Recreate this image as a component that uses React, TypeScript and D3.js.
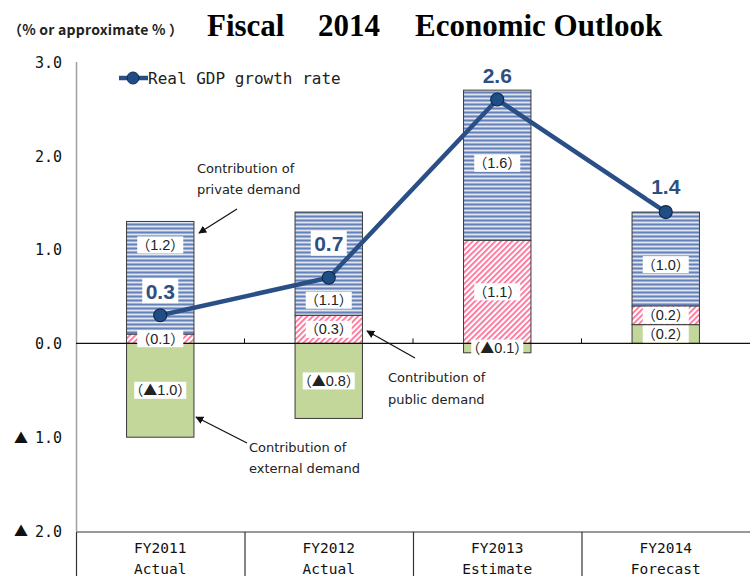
import React from "react";
import * as d3 from "d3";

const categories = ["FY2011", "FY2012", "FY2013", "FY2014"];
const categorySub = ["Actual", "Actual", "Estimate", "Forecast"];
const privateDemand = [1.2, 1.1, 1.6, 1.0];
const publicDemand = [0.1, 0.3, 1.1, 0.2];
const externalDemand = [-1.0, -0.8, -0.1, 0.2];
const gdpGrowth = [0.3, 0.7, 2.6, 1.4];
const yTicks = [3, 2, 1, 0, -1, -2];

// layout helpers (label placement, not data)
const privateLabelAt = [1.05, 0.46, 1.92, 0.84];
const gdpLabelLift = [24, 34, 24, 26];

const W = 750;
const H = 576;

const y = d3.scaleLinear().domain([-2, 3]).range([531, 62]);
const xCell = d3.scaleBand<string>().domain(categories).range([76, 750]).padding(0);
const xBar = d3
  .scaleBand<string>()
  .domain(categories)
  .range([76, 750])
  .paddingInner(0.6)
  .paddingOuter(0.3);

type Seg = { cat: string; kind: string; y0: number; y1: number; v: number };

function buildSegments(): Seg[] {
  const out: Seg[] = [];
  categories.forEach((c, i) => {
    let base = 0;
    const ext = externalDemand[i];
    if (ext >= 0) {
      out.push({ cat: c, kind: "ext", y0: 0, y1: ext, v: ext });
      base = ext;
    } else {
      out.push({ cat: c, kind: "ext", y0: ext, y1: 0, v: ext });
    }
    out.push({ cat: c, kind: "pub", y0: base, y1: base + publicDemand[i], v: publicDemand[i] });
    base += publicDemand[i];
    out.push({ cat: c, kind: "priv", y0: base, y1: base + privateDemand[i], v: privateDemand[i] });
  });
  return out;
}

const fillFor: Record<string, string> = {
  ext: "#c4d79b",
  pub: "url(#pubPat)",
  priv: "url(#privPat)",
};

const LINE = "#2a4f86";
const sans = "'Liberation Sans', Arial, sans-serif";
const dv = "'DejaVu Sans', sans-serif";
const mono = "'DejaVu Sans Mono', monospace";
const cjk = "'Noto Sans CJK JP', 'Noto Sans', sans-serif";

export default function App() {
  const segs = buildSegments();
  const bw = xBar.bandwidth();
  const cx = (c: string) => (xBar(c) as number) + bw / 2;
  const line = d3
    .line<number>()
    .x((_, i) => cx(categories[i]))
    .y((d) => y(d));

  const segLabelY = (s: Seg, i: number) =>
    s.kind === "priv" ? y(privateLabelAt[i]) : y((s.y0 + s.y1) / 2);

  return (
    <div style={{ position: "absolute", left: 0, top: 0 }}>
      <svg width={W} height={H} style={{ display: "block", background: "#fff" }}>
        <defs>
          <pattern id="privPat" patternUnits="userSpaceOnUse" width={4} height={4}>
            <rect width={4} height={4} fill="#9fb0cf" />
            <rect y={0} width={4} height={1} fill="#6482b8" />
            <rect y={2} width={4} height={1} fill="#dfe6f2" />
          </pattern>
          <pattern
            id="pubPat"
            patternUnits="userSpaceOnUse"
            width={4}
            height={4}
            patternTransform="rotate(45)"
          >
            <rect width={4} height={4} fill="#ffffff" />
            <rect x={0} y={0} width={1.7} height={4} fill="#ff6a95" />
          </pattern>
          <marker
            id="arr"
            viewBox="0 0 10 10"
            refX={9}
            refY={5}
            markerWidth={8}
            markerHeight={8}
            orient="auto"
            markerUnits="userSpaceOnUse"
          >
            <path d="M0,0 L10,5 L0,10 z" fill="#111" />
          </marker>
        </defs>

        {/* subtitle + title */}
        <text
          x={8}
          y={35}
          fontFamily={cjk}
          fontSize={14}
          fontWeight={700}
          fill="#222"
          textLength={175}
          lengthAdjust="spacing"
        >
          （% or approximate % ）
        </text>
        <g fontFamily="'Liberation Serif', 'Times New Roman', serif" fontWeight={700} fontSize={31} fill="#000">
          <text x={207} y={36}>Fiscal</text>
          <text x={318} y={36}>2014</text>
          <text x={415} y={36}>Economic Outlook</text>
        </g>

        {/* y axis */}
        <line x1={76.5} x2={76.5} y1={62} y2={531} stroke="#a0a0a0" strokeWidth={1.5} />
        {yTicks.map((t) => (
          <g key={t}>
            {t < 0 && (
              <text x={14} y={y(t)} dy="0.38em" fontFamily={cjk} fontSize={14} fill="#111">
                ▲
              </text>
            )}
            <text
              x={62}
              y={y(t)}
              dy="0.38em"
              textAnchor="end"
              fontFamily={mono}
              fontSize={15}
              fill="#111"
            >
              {Math.abs(t).toFixed(1)}
            </text>
          </g>
        ))}

        {/* bars */}
        {segs.map((s, k) => (
          <rect
            key={"b" + k}
            x={xBar(s.cat)}
            y={y(s.y1)}
            width={bw}
            height={y(s.y0) - y(s.y1)}
            fill={fillFor[s.kind]}
            stroke="#3a3a3a"
            strokeWidth={1}
          />
        ))}

        {/* zero line with ticks */}
        <line x1={76} x2={750} y1={y(0)} y2={y(0)} stroke="#111" strokeWidth={1.2} />
        {categories.slice(1).map((c) => (
          <line
            key={"zt" + c}
            x1={xCell(c)}
            x2={xCell(c)}
            y1={y(0)}
            y2={y(0) - 5}
            stroke="#111"
            strokeWidth={1}
          />
        ))}

        {/* segment labels */}
        {segs.map((s, k) => {
          const i = categories.indexOf(s.cat);
          const w = s.v < 0 ? 52 : 46;
          const yy = segLabelY(s, i);
          return (
            <g key={"l" + k}>
              <rect x={cx(s.cat) - w / 2} y={yy - 8.5} width={w} height={17} fill="#fff" />
              <text
                x={cx(s.cat)}
                y={yy}
                dy="0.36em"
                textAnchor="middle"
                fontFamily={cjk}
                fontSize={14}
                fill="#222"
              >
                （{s.v < 0 ? "▲" : ""}
                <tspan fontFamily={sans} fontSize={14.5}>
                  {Math.abs(s.v).toFixed(1)}
                </tspan>
                ）
              </text>
            </g>
          );
        })}

        {/* GDP line */}
        <path d={line(gdpGrowth) || ""} fill="none" stroke={LINE} strokeWidth={4.5} strokeLinejoin="round" />
        {gdpGrowth.map((v, i) => (
          <circle
            key={"c" + i}
            cx={cx(categories[i])}
            cy={y(v)}
            r={6.5}
            fill="#1f4e86"
            stroke="#0f2a4c"
            strokeWidth={1.2}
          />
        ))}
        {gdpGrowth.map((v, i) => {
          const px = cx(categories[i]);
          const py = y(v) - gdpLabelLift[i];
          return (
            <g key={"g" + i}>
              <rect x={px - 18} y={py - 13} width={36} height={25} fill="#fff" />
              <text
                x={px}
                y={py}
                dy="0.36em"
                textAnchor="middle"
                fontFamily={sans}
                fontWeight={700}
                fontSize={21}
                fill="#2f4f7f"
              >
                {v.toFixed(1)}
              </text>
            </g>
          );
        })}

        {/* legend */}
        <line x1={119} x2={148} y1={78} y2={78} stroke={LINE} strokeWidth={4.5} />
        <circle cx={133} cy={78} r={6} fill="#1f4e86" stroke="#0f2a4c" strokeWidth={1} />
        <text x={148} y={78} dy="0.36em" fontFamily={mono} fontSize={16} fill="#222">
          Real GDP growth rate
        </text>

        {/* annotations */}
        <g fontFamily={dv} fontSize={13} fill="#222">
          <text x={197} y={173}>Contribution of</text>
          <text x={197} y={194}>private demand</text>
          <text x={388} y={382}>Contribution of</text>
          <text x={388} y={404}>public demand</text>
          <text x={249} y={452}>Contribution of</text>
          <text x={249} y={473}>external demand</text>
        </g>
        <g stroke="#111" strokeWidth={1.2} markerEnd="url(#arr)">
          <line x1={237} y1={209} x2={199} y2={233} />
          <line x1={415} y1={358} x2={367} y2={331} />
          <line x1={247} y1={443} x2={196} y2={417} />
        </g>

        {/* category table */}
        <line x1={76} x2={750} y1={532} y2={532} stroke="#333" strokeWidth={1.2} />
        {categories.map((c) => (
          <line
            key={"v" + c}
            x1={(xCell(c) as number) + 0.5}
            x2={(xCell(c) as number) + 0.5}
            y1={532}
            y2={H}
            stroke="#333"
            strokeWidth={1.2}
          />
        ))}
        {categories.map((c, i) => (
          <g key={"ct" + c} fontFamily={mono} fontSize={14.5} fill="#111" textAnchor="middle">
            <text x={(xCell(c) as number) + xCell.bandwidth() / 2} y={553}>
              {c}
            </text>
            <text x={(xCell(c) as number) + xCell.bandwidth() / 2} y={574}>
              {categorySub[i]}
            </text>
          </g>
        ))}
      </svg>
    </div>
  );
}
